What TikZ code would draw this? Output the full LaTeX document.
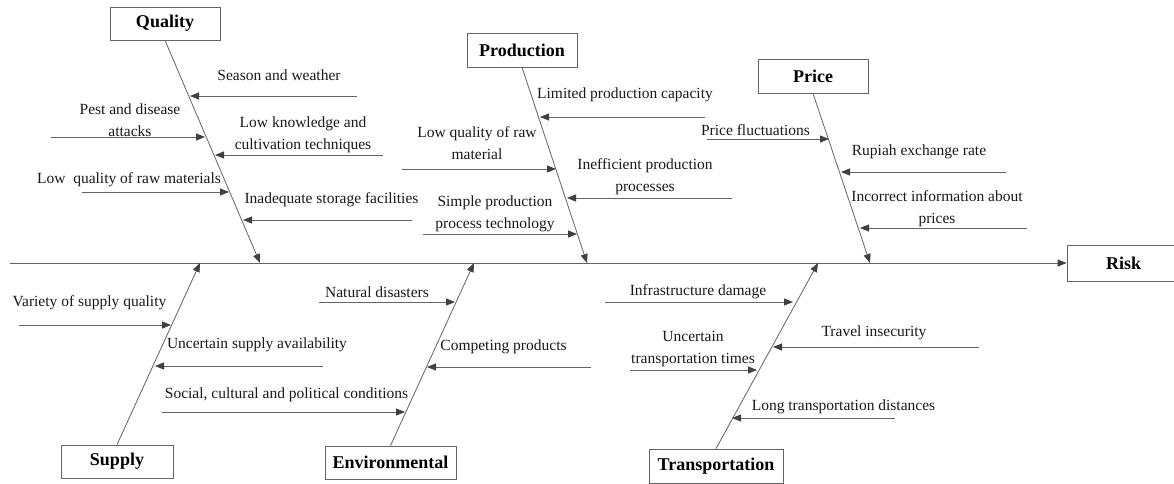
\documentclass[tikz,border=0pt]{standalone}
\usepackage{fontspec}
\setmainfont{Liberation Serif}
\usetikzlibrary{arrows.meta}
\definecolor{ln}{RGB}{100,100,100}
\definecolor{tipc}{RGB}{64,64,64}
\definecolor{tx}{RGB}{25,25,25}
\begin{document}
\begin{tikzpicture}[x=1pt,y=-1pt,
  cat/.style={draw=ln, fill=white, line width=0.8pt, inner sep=0pt, text=black,
    font=\fontsize{18}{20}\selectfont\bfseries},
  lbl/.style={font=\fontsize{15.5}{22}\selectfont, text=tx, inner sep=0pt, align=center},
  bone/.style={draw=ln, line width=0.8pt, -{Triangle[length=9pt,width=7pt,color=tipc]}},
  cause/.style={draw=ln, line width=0.8pt, -{Triangle[length=9pt,width=7pt,color=tipc]}}]
\clip (0,0) rectangle (1174,484);
\fill[white] (0,0) rectangle (1174,484);

% category boxes
\node[cat, minimum width=110pt, minimum height=33pt] (Q)  at (165,23.5) {Quality};
\node[cat, minimum width=110pt, minimum height=34pt] (P)  at (522,50) {Production};
\node[cat, minimum width=110pt, minimum height=34pt] (Pr) at (813,76) {Price};
\node[cat, minimum width=112pt, minimum height=33pt] (S)  at (117,461.5) {Supply};
\node[cat, minimum width=131pt, minimum height=33pt] (E)  at (390.5,462.5) {Environmental};
\node[cat, minimum width=134pt, minimum height=34pt] (T)  at (716,466) {Transportation};
\node[cat, minimum width=113pt, minimum height=36pt] (R)  at (1123.5,263) {Risk};

% spine
\coordinate (sp) at (10,263);
\draw[bone] (sp) -- (R.west);

% bone ends on spine
\coordinate (Qe) at (260,263);
\coordinate (Pe) at (587,263);
\coordinate (Pre) at (870,263);
\coordinate (Se) at (200,263);
\coordinate (Ee) at (474,263);
\coordinate (Te) at (818,263);
\draw[bone] (Q.south) -- (Qe);
\draw[bone] (P.south) -- (Pe);
\draw[bone] (Pr.south) -- (Pre);
\draw[bone] (S.north) -- (Se);
\draw[bone] (E.north) -- (Ee);
\draw[bone] (T.north) -- (Te);

% ---- Quality causes
\node[lbl] (q1) at (279,75) {Season and weather};
\node[lbl] (q2) at (130,120) {Pest and disease\\attacks};
\node[lbl] (q3) at (303,135) {Low knowledge and\\cultivation techniques};
\node[lbl] (q4) at (129,180) {Low\ \ quality of raw materials};
\node[lbl] (q5) at (331.5,200) {Inadequate storage facilities};
\coordinate (q1s) at (357,96);  \coordinate (q1e) at (190,96);
\coordinate (q2s) at (51,137);  \coordinate (q2e) at (205,137);
\coordinate (q3s) at (383,155); \coordinate (q3e) at (215,155);
\coordinate (q4s) at (82,192);  \coordinate (q4e) at (229,192);
\coordinate (q5s) at (412,220); \coordinate (q5e) at (243,220);
\draw[cause] (q1s) -- (q1e);
\draw[cause] (q2s) -- (q2e);
\draw[cause] (q3s) -- (q3e);
\draw[cause] (q4s) -- (q4e);
\draw[cause] (q5s) -- (q5e);

% ---- Production causes
\node[lbl] (p1) at (625,95) {Limited production capacity};
\node[lbl] (p2) at (477,143) {Low quality of raw\\material};
\node[lbl] (p3) at (645,177) {Inefficient production\\processes};
\node[lbl] (p4) at (495,214) {Simple production\\process technology};
\coordinate (p1s) at (705,117); \coordinate (p1e) at (540,117);
\coordinate (p2s) at (402,169); \coordinate (p2e) at (556,169);
\coordinate (p3s) at (732,198); \coordinate (p3e) at (567,198);
\coordinate (p4s) at (423,234); \coordinate (p4e) at (577,234);
\draw[cause] (p1s) -- (p1e);
\draw[cause] (p2s) -- (p2e);
\draw[cause] (p3s) -- (p3e);
\draw[cause] (p4s) -- (p4e);

% ---- Price causes
\node[lbl] (r1) at (755.5,130) {Price fluctuations};
\node[lbl] (r2) at (919,152) {Rupiah exchange rate};
\node[lbl] (r3) at (937,208.5) {Incorrect information about\\prices};
\coordinate (r1s) at (707,139);  \coordinate (r1e) at (829,139);
\coordinate (r2s) at (1006,172); \coordinate (r2e) at (841,172);
\coordinate (r3s) at (1027,228); \coordinate (r3e) at (860,228);
\draw[cause] (r1s) -- (r1e);
\draw[cause] (r2s) -- (r2e);
\draw[cause] (r3s) -- (r3e);

% ---- Supply causes
\node[lbl] (s1) at (89.5,303) {Variety of supply quality};
\node[lbl] (s2) at (257,345) {Uncertain supply availability};
\coordinate (s1s) at (19,325);  \coordinate (s1e) at (171,325);
\coordinate (s2s) at (323,366); \coordinate (s2e) at (155,366);
\draw[cause] (s1s) -- (s1e);
\draw[cause] (s2s) -- (s2e);

% ---- Environmental causes
\node[lbl] (e1) at (377,292) {Natural disasters};
\node[lbl] (e2) at (503.5,347) {Competing products};
\node[lbl] (e3) at (286.5,395) {Social, cultural and political conditions};
\coordinate (e1s) at (319,302); \coordinate (e1e) at (455,302);
\coordinate (e2s) at (591,367); \coordinate (e2e) at (427,367);
\coordinate (e3s) at (162,412); \coordinate (e3e) at (405,412);
\draw[cause] (e1s) -- (e1e);
\draw[cause] (e2s) -- (e2e);
\draw[cause] (e3s) -- (e3e);

% ---- Transportation causes
\node[lbl] (t1) at (698,292) {Infrastructure damage};
\node[lbl] (t2) at (874,333) {Travel insecurity};
\node[lbl] (t3) at (693,349) {Uncertain\\transportation times};
\node[lbl] (t4) at (843.5,407) {Long transportation distances};
\coordinate (t1s) at (605,302); \coordinate (t1e) at (793,302);
\coordinate (t2s) at (979,347); \coordinate (t2e) at (773,347);
\coordinate (t3s) at (630,370); \coordinate (t3e) at (757,370);
\coordinate (t4s) at (895,418); \coordinate (t4e) at (732,418);
\draw[cause] (t1s) -- (t1e);
\draw[cause] (t2s) -- (t2e);
\draw[cause] (t3s) -- (t3e);
\draw[cause] (t4s) -- (t4e);
\end{tikzpicture}
\end{document}
